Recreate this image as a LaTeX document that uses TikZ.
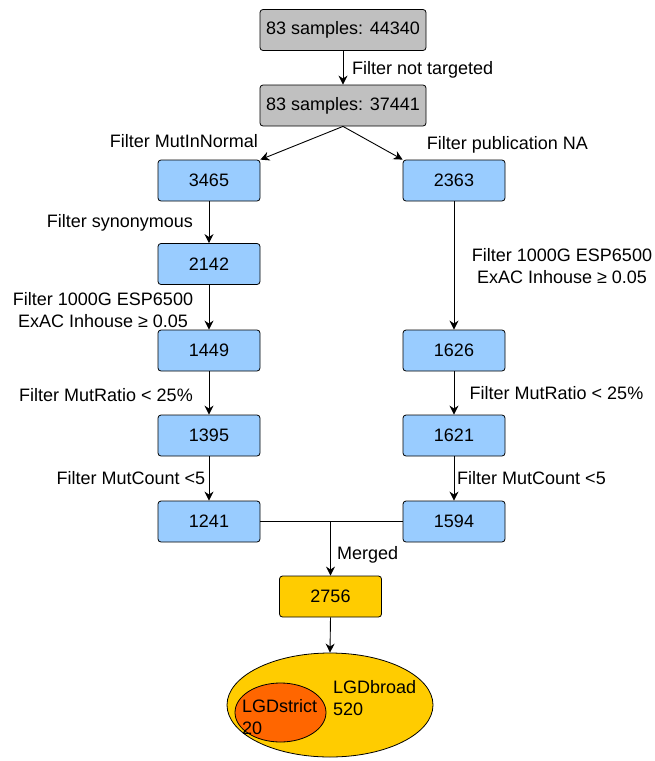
\documentclass[tikz,border=0pt]{standalone}
\usepackage{fontspec}
\setmainfont{Liberation Sans}
\usetikzlibrary{arrows.meta,shapes.geometric}
\definecolor{boxgray}{HTML}{C0C0C0}
\definecolor{boxblue}{HTML}{99CCFF}
\definecolor{boxgold}{HTML}{FFCC00}
\definecolor{boxorange}{HTML}{FF6600}
\begin{document}
\begin{tikzpicture}[x=1pt,y=-1pt,
  font=\fontsize{18}{22}\selectfont,
  box/.style={draw, rounded corners=3pt, line width=0.8pt, minimum height=41pt, inner sep=0pt},
  graybox/.style={box, fill=boxgray, minimum width=166pt},
  bluebox/.style={box, fill=boxblue, minimum width=102pt},
  goldbox/.style={box, fill=boxgold, minimum width=102pt},
  flow/.style={-{Stealth[length=9pt,width=9pt]}, line width=0.9pt},
  joinline/.style={line width=0.9pt},
  lbl/.style={inner sep=0pt, align=center},
  set/.style={draw, ellipse, line width=0.8pt, inner sep=0pt}]
\useasboundingbox (0,0) rectangle (655,761);

% filtering boxes
\node[graybox] (top) at (343,30) {83 samples: 44340};
\node[graybox] (mid) at (343,105.5) {83 samples: 37441};
\node[bluebox] (a1) at (209,180.5) {3465};
\node[bluebox] (b1) at (454,180.5) {2363};
\node[bluebox] (a2) at (209,264) {2142};
\node[bluebox] (a3) at (209,350.5) {1449};
\node[bluebox] (b3) at (454,350.5) {1626};
\node[bluebox] (a4) at (209,435.5) {1395};
\node[bluebox] (b4) at (454,435.5) {1621};
\node[bluebox] (a5) at (209,521.5) {1241};
\node[bluebox] (b5) at (454,521.5) {1594};
\node[goldbox] (m) at (330.5,596.5) {2756};

% result sets
\node[set, fill=boxgold, minimum width=206pt, minimum height=104pt] (broad) at (330,705) {};
\node[set, fill=boxorange, minimum width=91pt, minimum height=59pt] (strict) at (280.5,712.5) {};
\node[lbl, anchor=west, align=left] (broadtxt) at (333,698.5) {LGDbroad\\520};
\node[lbl, anchor=west, align=left] (stricttxt) at (242,717) {LGDstrict\\20};

% connectors
\draw[flow] (top.south) -- (mid.north);
\draw[flow] (mid.south) -- (a1.north east);
\draw[flow] (mid.south) -- (b1.north west);
\draw[flow] (a1) -- (a2);
\draw[flow] (a2) -- (a3);
\draw[flow] (a3) -- (a4);
\draw[flow] (a4) -- (a5);
\draw[flow] (b1) -- (b3);
\draw[flow] (b3) -- (b4);
\draw[flow] (b4) -- (b5);
\coordinate (j) at (a5.east -| m.north);
\draw[joinline] (a5.east) -- (b5.west);
\draw[flow] (j) -- (m.north);
\draw[flow] (m.south) -- (broad.north);

% connector labels
\node[lbl, anchor=west] (l0) at (352,70) {Filter not targeted};
\node[lbl] (la1) at (184,141) {Filter MutInNormal};
\node[lbl] (lb1) at (507.5,145) {Filter publication NA};
\node[lbl] (la2) at (120,223) {Filter synonymous};
\node[lbl] (la3) at (103,310) {Filter 1000G ESP6500\\ExAC Inhouse ≥ 0.05};
\node[lbl] (lb3) at (562,266) {Filter 1000G ESP6500\\ExAC Inhouse ≥ 0.05};
\node[lbl] (la4) at (106,395) {Filter MutRatio < 25\%};
\node[lbl] (lb4) at (556.5,393) {Filter MutRatio < 25\%};
\node[lbl] (la5) at (131,478) {Filter MutCount <5};
\node[lbl] (lb5) at (531.5,478) {Filter MutCount <5};
\node[lbl, anchor=west] (lm) at (337,555) {Merged};
\end{tikzpicture}
\end{document}
